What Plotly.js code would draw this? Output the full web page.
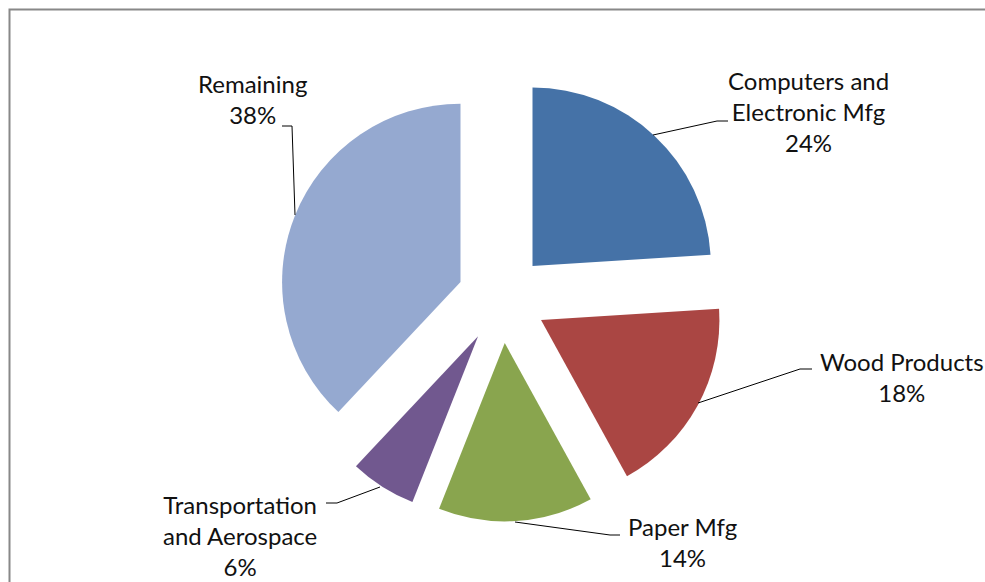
<!DOCTYPE html>
<html>
<head>
<meta charset="utf-8">
<script src="https://cdn.plot.ly/plotly-3.0.1.min.js"></script>
<style>html,body{margin:0;padding:0;background:#fff;}#chart{width:985px;height:582px;}</style>
</head>
<body>
<div id="chart"></div>
<script>
// ---- data ----
var categories = ['Computers and Electronic Mfg', 'Wood Products', 'Paper Mfg', 'Transportation and Aerospace', 'Remaining'];
var displayLabels = ['Computers and<br>Electronic Mfg', 'Wood Products', 'Paper Mfg', 'Transportation<br>and Aerospace', 'Remaining'];
var values = [24, 18, 14, 6, 38];
var colors = ['#4572A7', '#AA4643', '#89A54E', '#71588F', '#95A9D0'];

// ---- layout helpers (pixel -> paper) ----
var W = 985, H = 582;
function px(x) { return x / W; }
function py(y) { return 1 - y / H; }

// label centers (pixels) and leader lines (pixels)
var labelPos = [[808, 112], [902, 377], [682, 542], [240, 535], [252, 99]];
var leaders = [
  [[653, 135], [717, 121], [728, 121]],
  [[698, 403], [800, 369], [812, 369]],
  [[515, 522], [610, 535], [620, 535]],
  [[380, 487], [337, 503], [326, 503]],
  [[295, 215], [292, 126], [282, 126]]
];

var annotations = categories.map(function (c, i) {
  return {
    xref: 'paper', yref: 'paper',
    x: px(labelPos[i][0]), y: py(labelPos[i][1]),
    xanchor: 'center', yanchor: 'middle',
    text: displayLabels[i] + '<br>' + values[i] + '%',
    showarrow: false,
    font: {family: 'Lato, "Liberation Sans", sans-serif', size: 24, color: '#111111'},
    align: 'center'
  };
});

var shapes = leaders.map(function (pts) {
  var d = pts.map(function (p, k) { return (k ? 'L' : 'M') + px(p[0]) + ',' + py(p[1]); }).join(' ');
  return {type: 'path', xref: 'paper', yref: 'paper', path: d, line: {color: '#000', width: 1}};
});
shapes.push({
  type: 'rect', xref: 'paper', yref: 'paper',
  x0: px(9.5), x1: 1.05, y0: -0.05, y1: py(9.5),
  line: {color: '#888888', width: 2}, fillcolor: 'rgba(0,0,0,0)'
});

var trace = {
  type: 'pie',
  labels: categories,
  values: values,
  sort: false,
  direction: 'clockwise',
  rotation: 0,
  pull: [0.25, 0.25, 0.25, 0.25, 0.25],
  marker: {colors: colors, line: {width: 0}},
  textinfo: 'none',
  hoverinfo: 'label+percent',
  domain: {x: [0.2832, 0.7360], y: [0.1040, 0.8703]}
};

var layout = {
  width: W, height: H,
  margin: {l: 0, r: 0, t: 0, b: 0},
  paper_bgcolor: '#fff',
  showlegend: false,
  annotations: annotations,
  shapes: shapes
};

Plotly.newPlot('chart', [trace], layout, {displayModeBar: false, staticPlot: true});
</script>
</body>
</html>
